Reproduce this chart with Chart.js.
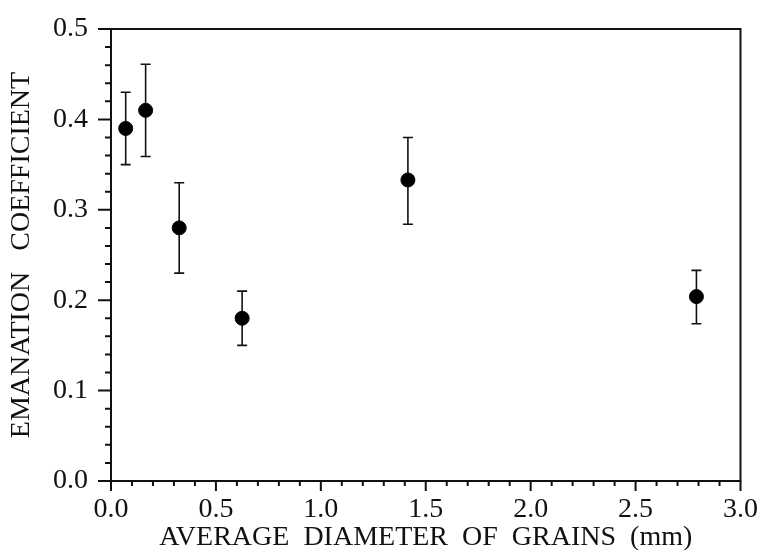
<!DOCTYPE html>
<html>
<head>
<meta charset="utf-8">
<script src="https://cdn.jsdelivr.net/npm/chart.js@4/dist/chart.umd.min.js"></script>
<style>
  html, body { margin: 0; padding: 0; background: #fff; }
  #wrap { width: 762px; height: 550px; }
</style>
</head>
<body>
<div id="wrap"><canvas id="chart"></canvas></div>
<script>
// average grain diameter (mm) and emanation coefficient, with error bar ends
const diameters = [0.07, 0.165, 0.325, 0.625, 1.415, 2.79];
const coefficients = [0.39, 0.41, 0.28, 0.18, 0.333, 0.204];
const errHigh = [0.43, 0.461, 0.33, 0.21, 0.38, 0.233];
const errLow = [0.35, 0.359, 0.23, 0.15, 0.284, 0.174];
const xTicks = [0.0, 0.5, 1.0, 1.5, 2.0, 2.5, 3.0];
const yTicks = [0.0, 0.1, 0.2, 0.3, 0.4, 0.5];

const serif = "'Liberation Serif', 'Times New Roman', serif";

// error bars with small caps, drawn under the dots
const errorBars = {
  id: "errorBars",
  beforeDatasetsDraw(chart) {
    const { ctx, scales: { x, y } } = chart;
    ctx.save();
    ctx.strokeStyle = "#111";
    ctx.lineWidth = 1.6;
    diameters.forEach((d, i) => {
      const px = x.getPixelForValue(d);
      const top = y.getPixelForValue(errHigh[i]);
      const bot = y.getPixelForValue(errLow[i]);
      ctx.beginPath();
      ctx.moveTo(px, top); ctx.lineTo(px, bot);
      ctx.moveTo(px - 5, top); ctx.lineTo(px + 5, top);
      ctx.moveTo(px - 5, bot); ctx.lineTo(px + 5, bot);
      ctx.stroke();
    });
    ctx.restore();
  }
};

// box frame plus outward major/minor ticks
const frame = {
  id: "frame",
  afterDraw(chart) {
    const { ctx, chartArea: a, scales: { x, y } } = chart;
    ctx.save();
    ctx.strokeStyle = "#111";
    ctx.lineWidth = 2;
    ctx.strokeRect(a.left, a.top, a.right - a.left, a.bottom - a.top);
    ctx.beginPath();
    for (let i = 0; i <= 30; i++) {
      const px = x.getPixelForValue(i / 10);
      ctx.moveTo(px, a.bottom);
      ctx.lineTo(px, a.bottom + (i % 5 === 0 ? 10 : 5));
    }
    for (let j = 0; j <= 25; j++) {
      const py = y.getPixelForValue(j / 50);
      ctx.moveTo(a.left, py);
      ctx.lineTo(a.left - (j % 5 === 0 ? 13 : 6), py);
    }
    ctx.stroke();
    ctx.restore();
  }
};

new Chart(document.getElementById("chart"), {
  type: "scatter",
  data: {
    datasets: [{
      data: diameters.map((d, i) => ({ x: d, y: coefficients[i] })),
      backgroundColor: "#000",
      borderColor: "#000",
      pointRadius: 7,
      pointHoverRadius: 7
    }]
  },
  options: {
    responsive: true,
    maintainAspectRatio: false,
    animation: false,
    layout: { padding: { top: 20, right: 0, left: 0, bottom: 0 } },
    plugins: {
      legend: { display: false },
      tooltip: { enabled: false }
    },
    scales: {
      x: {
        type: "linear",
        min: 0, max: 3,
        grid: { display: false },
        border: { display: false },
        afterBuildTicks(scale) { scale.ticks = xTicks.map(v => ({ value: v })); },
        afterFit(scale) { scale.height = 69; },
        ticks: {
          padding: 4,
          color: "#111",
          font: { family: serif, size: 28 },
          callback: v => v.toFixed(1)
        },
        title: {
          display: true,
          text: "AVERAGE  DIAMETER  OF  GRAINS  (mm)",
          color: "#111",
          font: { family: serif, size: 28, lineHeight: 1 },
          padding: { top: 0, bottom: -2 }
        }
      },
      y: {
        type: "linear",
        min: 0, max: 0.5,
        grid: { display: false },
        border: { display: false },
        afterBuildTicks(scale) { scale.ticks = yTicks.map(v => ({ value: v })); },
        afterFit(scale) { scale.width = 111; },
        ticks: {
          padding: 15,
          color: "#111",
          font: { family: serif, size: 28, lineHeight: 1 },
          callback: v => v.toFixed(1)
        },
        title: {
          display: true,
          text: "EMANATION   COEFFICIENT",
          color: "#111",
          font: { family: serif, size: 28, lineHeight: 1 },
          padding: { top: 8, bottom: 0 }
        }
      }
    }
  },
  plugins: [errorBars, frame]
});
</script>
</body>
</html>
